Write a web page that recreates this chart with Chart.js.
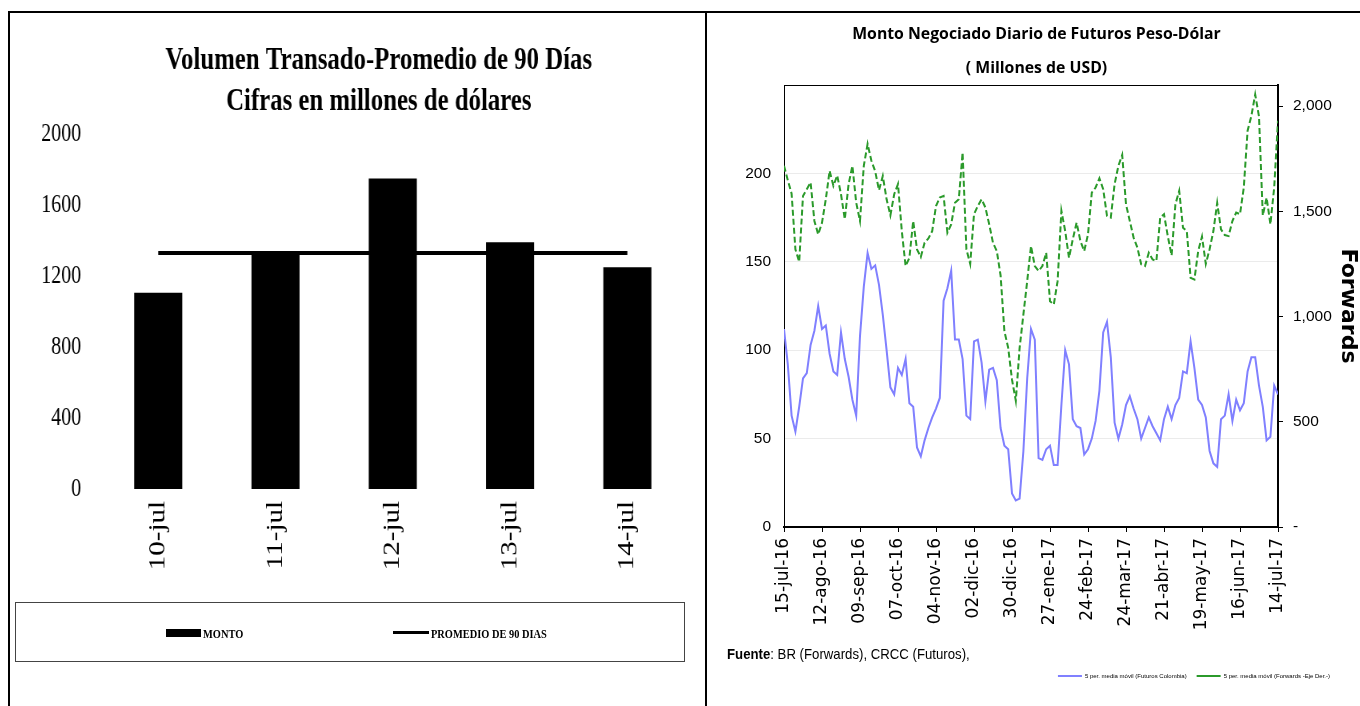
<!DOCTYPE html>
<html>
<head>
<meta charset="utf-8">
<script src="https://cdn.jsdelivr.net/npm/chart.js@4.4.0/dist/chart.umd.min.js"></script>
<style>
  html, body { margin: 0; padding: 0; background: #fff; width: 1360px; height: 706px; overflow: hidden; position: relative; }
  .frame { position: absolute; left: 8px; top: 11px; width: 1360px; height: 720px; border-top: 2px solid #000; border-left: 2px solid #000; box-sizing: border-box; }
  .divider { position: absolute; left: 705px; top: 11px; width: 2px; height: 700px; background: #000; }
  #left { position: absolute; left: 10px; top: 13px; }
  #right { position: absolute; left: 709px; top: 14px; }
  .legL { position: absolute; left: 15px; top: 602px; width: 670px; height: 60px; border: 1px solid #444; box-sizing: border-box; }
  .legL .sw { position: absolute; background: #000; }
  .legL .tx { position: absolute; top: 23px; font: bold 13px 'Liberation Serif', 'Times New Roman', serif; transform: scaleX(0.8); transform-origin: left center; white-space: nowrap; }
  .fuente { position: absolute; left: 727px; top: 645px; font: 15px 'Liberation Sans Narrow', 'Liberation Sans', Arial, sans-serif; transform: scaleX(0.88); transform-origin: left center; white-space: nowrap; }
</style>
</head>
<body>
<div class="frame"></div>
<div class="divider"></div>

<canvas id="left" width="870" height="693" style="width:696px;height:693px"></canvas>
<div class="legL">
  <span class="sw" style="left:150px; top:26px; width:35px; height:8px;"></span>
  <span class="tx" style="left:187px;">MONTO</span>
  <span class="sw" style="left:377px; top:28px; width:36px; height:3px;"></span>
  <span class="tx" style="left:415px;">PROMEDIO DE 90 DIAS</span>
</div>

<canvas id="right" width="651" height="692"></canvas>
<div class="fuente"><b>Fuente</b>: BR (Forwards), CRCC (Futuros),</div>

<script>
// left panel: last five days vs 90-day average
const days = ['10-jul', '11-jul', '12-jul', '13-jul', '14-jul'];
const monto = [1105, 1335, 1750, 1390, 1250];
const promedio90 = [1330, 1330, 1330, 1330, 1330];
const montoTicks = [0, 400, 800, 1200, 1600, 2000];
const leftTitle = ['Volumen Transado-Promedio de 90 Días', 'Cifras en millones de dólares'];

// right panel: 5-period moving averages, one value every 2 business days
const tickDates = ['15-jul-16', '12-ago-16', '09-sep-16', '07-oct-16', '04-nov-16', '02-dic-16', '30-dic-16',
  '27-ene-17', '24-feb-17', '24-mar-17', '21-abr-17', '19-may-17', '16-jun-17', '14-jul-17'];
const futurosTicks = [0, 50, 100, 150, 200];
const forwardsTicks = [0, 500, 1000, 1500, 2000];
const futuros = [
  112, 92, 63, 54, 68, 84, 87, 103, 111, 125,
  112, 114, 98, 88, 86, 110, 95, 85, 72, 63,
  108, 136, 155, 146, 148, 137, 120, 100, 79, 75,
  90, 86, 95, 70, 68, 45, 40, 49, 56, 62,
  67, 73, 128, 135, 145, 106, 106, 95, 63, 61,
  105, 106, 93, 71, 89, 90, 83, 56, 46, 44,
  19, 15, 16, 43, 84, 112, 106, 39, 38, 44,
  46, 35, 35, 69, 100, 92, 61, 57, 56, 41,
  44, 50, 60, 77, 110, 116, 96, 59, 50, 58,
  69, 74, 67, 61, 50, 56, 62, 57, 53, 49,
  61, 68, 61, 69, 73, 88, 87, 105, 90, 72,
  69, 62, 43, 36, 34, 61, 63, 75, 60, 72,
  66, 70, 88, 96, 96, 80, 68, 49, 51, 80,
  75
];
const forwards = [
  1716, 1648, 1584, 1319, 1260, 1573, 1605, 1637, 1454, 1390,
  1446, 1557, 1692, 1621, 1670, 1581, 1462, 1629, 1716, 1541,
  1454, 1716, 1820, 1740, 1690, 1600, 1668, 1557, 1481, 1581,
  1629, 1406, 1240, 1279, 1454, 1319, 1283, 1351, 1371, 1406,
  1525, 1565, 1573, 1398, 1438, 1541, 1557, 1779, 1319, 1250,
  1486, 1525, 1557, 1518, 1438, 1350, 1311, 1195, 930, 851,
  700, 600, 850, 1010, 1168, 1335, 1240, 1216, 1240, 1303,
  1073, 1057, 1168, 1502, 1406, 1279, 1367, 1446, 1359, 1311,
  1390, 1589, 1613, 1657, 1605, 1478, 1470, 1629, 1716, 1768,
  1533, 1454, 1375, 1327, 1248, 1240, 1303, 1271, 1264, 1470,
  1486, 1382, 1290, 1533, 1597, 1422, 1406, 1184, 1176, 1311,
  1380, 1250, 1320, 1406, 1540, 1414, 1387, 1382, 1454, 1494,
  1486, 1613, 1883, 1954, 2055, 1950, 1480, 1565, 1438, 1613,
  1930
];
const dayStep = 2;
const daysPerLabel = 20;

Chart.defaults.color = '#000';
Chart.defaults.animation = false;

const serif = "'Liberation Serif', 'Times New Roman', serif";
const narrow = "'Liberation Sans Narrow', 'Liberation Sans', Arial, sans-serif";
const fixTicks = list => s => { s.ticks = list.map(v => ({ value: v })); };

// title is drawn by hand: it sits a bit right of the panel centre
const leftTitlePlugin = {
  id: 'leftTitle',
  afterDraw(chart) {
    const ctx = chart.ctx;
    ctx.save();
    ctx.font = 'bold 31px ' + serif;
    ctx.fillStyle = '#000';
    ctx.textAlign = 'center';
    ctx.textBaseline = 'middle';
    leftTitle.forEach((t, i) => ctx.fillText(t, 461, 48 + i * 41));
    ctx.restore();
  }
};

new Chart(document.getElementById('left'), {
  type: 'bar',
  data: {
    labels: days,
    datasets: [
      { type: 'line', label: 'PROMEDIO DE 90 DIAS', data: promedio90, borderColor: '#000', borderWidth: 4,
        pointRadius: 0, order: 0 },
      { label: 'MONTO', data: monto, backgroundColor: '#000', categoryPercentage: 1, barPercentage: 0.41, order: 1 }
    ]
  },
  options: {
    responsive: false,
    devicePixelRatio: 1,
    layout: { padding: { left: 0, right: 25, top: 121, bottom: 0 } },
    plugins: {
      legend: { display: false },
      tooltip: { enabled: false }
    },
    scales: {
      x: {
        grid: { display: false, drawTicks: false },
        border: { display: false },
        ticks: { minRotation: 90, maxRotation: 90, padding: 12, font: { family: serif, size: 29 } },
        afterFit: s => { s.height = 217; }
      },
      y: {
        min: 0, max: 2000,
        grid: { display: false, drawTicks: false },
        border: { display: false },
        ticks: { padding: 23, font: { family: serif, size: 25 }, callback: v => String(v) },
        afterBuildTicks: fixTicks(montoTicks),
        afterFit: s => { s.width = 112; }
      }
    }
  },
  plugins: [leftTitlePlugin]
});

const plotTop = {
  id: 'plotTop',
  afterDraw(chart) {
    const { ctx, chartArea: a } = chart;
    ctx.save();
    ctx.strokeStyle = '#000';
    ctx.lineWidth = 1;
    ctx.beginPath();
    ctx.moveTo(a.left, a.top + 0.5);
    ctx.lineTo(a.right, a.top + 0.5);
    ctx.stroke();
    ctx.restore();
  }
};

new Chart(document.getElementById('right'), {
  type: 'line',
  data: {
    datasets: [
      { label: '5 per. media móvil (Futuros Colombia)', data: futuros.map((v, k) => ({ x: k * dayStep, y: v })),
        borderColor: '#8080ff', borderWidth: 2, pointRadius: 0, tension: 0, yAxisID: 'y' },
      { label: '5 per. media móvil (Forwards -Eje Der.-)', data: forwards.map((v, k) => ({ x: k * dayStep, y: v })),
        borderColor: '#2b9a2b', borderWidth: 2, borderDash: [6, 3], pointRadius: 0, tension: 0, yAxisID: 'y1' }
    ]
  },
  options: {
    responsive: false,
    devicePixelRatio: 1,
    layout: { padding: { left: 24, right: 20, top: 0, bottom: 17 } },
    plugins: {
      tooltip: { enabled: false },
      title: {
        display: true,
        text: ['Monto Negociado Diario de Futuros Peso-Dólar', '( Millones de USD)'],
        color: '#000',
        font: { family: "'Open Sans', sans-serif", size: 15.8, weight: 'bold', lineHeight: '34px' },
        padding: { top: 3, bottom: 0 }
      },
      legend: {
        position: 'bottom',
        align: 'end',
        labels: { usePointStyle: true, pointStyle: 'line', pointStyleWidth: 24, boxHeight: 6, padding: 10,
          color: '#000', font: { family: narrow, size: 6 } }
      }
    },
    scales: {
      x: {
        type: 'linear', min: 0, max: dayStep * (futuros.length - 1),
        grid: { drawOnChartArea: false, tickLength: 5, color: '#000' },
        border: { color: '#000', width: 2 },
        ticks: { autoSkip: false, minRotation: 90, maxRotation: 90, padding: 6,
          font: { family: "'DejaVu Sans', Verdana, sans-serif", size: 17 },
          callback: v => tickDates[v / daysPerLabel] },
        afterBuildTicks: fixTicks(tickDates.map((d, k) => k * daysPerLabel)),
        afterFit: s => { s.height = 136; }
      },
      y: {
        position: 'left', min: 0, max: 250,
        grid: { color: '#ebebeb', drawTicks: false },
        border: { color: '#000', width: 1 },
        ticks: { padding: 13, font: { family: narrow, size: 15.5 } },
        afterBuildTicks: fixTicks(futurosTicks),
        afterFit: s => { s.width = 51; }
      },
      y1: {
        position: 'right', min: 0, max: 2100,
        grid: { drawOnChartArea: false, tickLength: 5, color: '#000' },
        border: { color: '#000', width: 2 },
        ticks: { padding: 10, font: { family: narrow, size: 15.5 },
          callback: v => (v === 0 ? '-' : v.toLocaleString('en-US')) },
        afterBuildTicks: fixTicks(forwardsTicks),
        title: { display: true, text: 'Forwards', color: '#000', padding: { top: -21, bottom: 0 },
          font: { family: "'DejaVu Sans', Verdana, sans-serif", size: 22, weight: 'bold' } },
        afterFit: s => { s.width = 62; }
      }
    }
  },
  plugins: [plotTop]
});
</script>
</body>
</html>
